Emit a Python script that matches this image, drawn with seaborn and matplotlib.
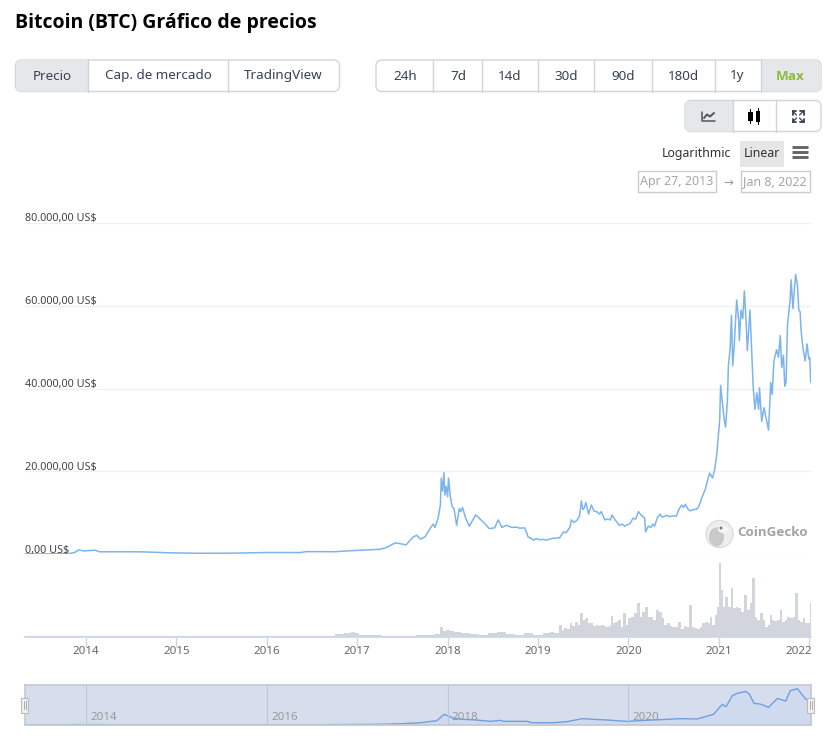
# -*- coding: utf-8 -*-
"""
Bitcoin (BTC) - grafico de precios estilo CoinGecko
"""

import numpy as np
import matplotlib.pyplot as plt
from matplotlib.patches import FancyBboxPatch, Rectangle, Circle, Ellipse
from matplotlib.transforms import ScaledTranslation
import seaborn as sns

# ===============================
# 1. DATOS
# ===============================
price_years = [
    2013.33, 2013.5, 2013.7, 2013.82, 2013.88, 2013.92, 2013.97, 2014.1, 2014.15, 2014.38,
    2014.6, 2014.9, 2015.26, 2015.63, 2016.0, 2016.37, 2016.44, 2016.74, 2017.0, 2017.25,
    2017.32, 2017.42, 2017.47, 2017.54, 2017.62, 2017.66, 2017.70, 2017.75, 2017.80, 2017.84,
    2017.86, 2017.895, 2017.92, 2017.93, 2017.945, 2017.96, 2017.97, 2017.985, 2018.0, 2018.01,
    2018.03, 2018.05, 2018.07, 2018.10, 2018.13, 2018.145, 2018.165, 2018.20, 2018.24, 2018.31,
    2018.35, 2018.41, 2018.46, 2018.52, 2018.56, 2018.60, 2018.65,
    2018.71, 2018.76, 2018.80, 2018.85, 2018.87, 2018.89, 2018.92, 2018.95, 2018.98, 2019.02,
    2019.05, 2019.10, 2019.15, 2019.20, 2019.24, 2019.28, 2019.31, 2019.35, 2019.37, 2019.40,
    2019.43, 2019.46, 2019.48, 2019.495, 2019.51, 2019.53, 2019.56, 2019.59, 2019.62, 2019.65,
    2019.68, 2019.70, 2019.72, 2019.74, 2019.77, 2019.80, 2019.82, 2019.85, 2019.90, 2019.93,
    2019.96, 2020.02, 2020.05, 2020.08, 2020.11, 2020.14, 2020.18, 2020.19, 2020.22, 2020.25,
    2020.27, 2020.29, 2020.32, 2020.35, 2020.37, 2020.39, 2020.42, 2020.46, 2020.50, 2020.53,
    2020.56, 2020.59, 2020.61, 2020.63, 2020.66, 2020.68, 2020.72, 2020.755, 2020.78, 2020.81,
    2020.85, 2020.885,
    2020.90, 2020.93, 2020.955, 2020.977, 2021.01, 2021.02,
    2021.04, 2021.06, 2021.075, 2021.095, 2021.106, 2021.125, 2021.14, 2021.154, 2021.17, 2021.198,
    2021.22, 2021.228, 2021.246, 2021.265, 2021.283, 2021.30, 2021.316, 2021.345, 2021.364, 2021.38,
    2021.40, 2021.42, 2021.44, 2021.45, 2021.475, 2021.50, 2021.55, 2021.575, 2021.59, 2021.61,
    2021.64, 2021.66, 2021.68, 2021.696, 2021.715, 2021.73, 2021.744, 2021.76, 2021.79, 2021.80,
    2021.82, 2021.83, 2021.85, 2021.87, 2021.885, 2021.90, 2021.91, 2021.93, 2021.955, 2021.977,
    2021.995, 2022.006, 2022.017,
]
price_usd = [
    140, 100, 130, 200, 500, 1100, 800, 1000, 600, 620,
    600, 380, 240, 280, 430, 430, 650, 620, 950, 1200,
    1600, 2750, 2600, 2270, 4200, 4600, 3650, 4200, 6000, 7300,
    6500, 8700, 11900, 18400, 15200, 19700, 14300, 16400, 13900, 18400,
    14000, 11500, 11100, 7000, 11100, 10300, 11300, 8700, 6800, 9500,
    8700, 7450, 6200, 6400, 8300, 6500, 7000,
    6500, 6550, 6300, 6400, 5500, 4200, 3900, 3400, 3800, 3500,
    3600, 3450, 3800, 3900, 4000, 5400, 5200, 6400, 8300, 7700,
    8200, 9300, 12900, 10800, 11100, 12500, 9700, 11900, 10400, 10300,
    9700, 10300, 9300, 8300, 8500, 8300, 9500, 8400, 7000, 7300,
    6800, 7450, 8700, 8500, 10300, 9500, 8700, 5400, 6800, 6500,
    7300, 6800, 8800, 9700, 9000, 9100, 9400, 9100, 9300, 9200,
    10900, 11900, 11300, 12100, 10900, 10500, 10800, 10900, 11600, 13500,
    15700, 18600,
    19600, 18400, 20500, 24000, 32500, 40800,
    36600, 32500, 30700, 37000, 45500, 49600, 57700, 45500, 50200, 61400,
    56500, 51600, 59000, 56900, 63600, 56900, 49200, 59000, 48800, 40600,
    35000, 39000, 35000, 40200, 32100, 35400, 30000, 41500, 38600, 46700,
    49400, 47600, 52800, 45100, 48100, 40600, 41500, 55300, 61800, 66300,
    59300, 62200, 67600, 65000, 59000, 58500, 54100, 50000, 46700, 50800,
    47200, 47500, 41500,
]

# volumen en miles de millones (estimado del grafico)
volume_years = [
    2013.33, 2014.0, 2015.0, 2015.8, 2016.1, 2016.4, 2016.7, 2016.8, 2016.9, 2016.96,
    2017.0, 2017.05, 2017.5, 2017.8, 2017.9, 2017.94, 2017.96, 2018.0, 2018.05, 2018.1,
    2018.2, 2018.3, 2018.4, 2018.5, 2018.6, 2018.7, 2018.8, 2018.9,
    2019.00, 2019.10, 2019.155, 2019.21, 2019.247, 2019.277, 2019.306, 2019.336, 2019.365, 2019.395,
    2019.424, 2019.454, 2019.483, 2019.506, 2019.535, 2019.565, 2019.594, 2019.624, 2019.653, 2019.683,
    2019.712, 2019.742, 2019.771, 2019.793, 2019.815, 2019.838, 2019.875, 2019.904, 2019.926, 2019.963,
    2019.985, 2020.015, 2020.044, 2020.074, 2020.111, 2020.14, 2020.17, 2020.20, 2020.229, 2020.258,
    2020.288, 2020.325, 2020.354, 2020.384, 2020.413, 2020.443, 2020.472, 2020.502, 2020.531, 2020.568,
    2020.598, 2020.627, 2020.657, 2020.686, 2020.716, 2020.745, 2020.775, 2020.804, 2020.834, 2020.863,
    2020.893, 2020.915, 2020.945, 2020.974, 2020.996, 2021.011, 2021.033, 2021.055, 2021.085, 2021.114,
    2021.148, 2021.173, 2021.203, 2021.232, 2021.262, 2021.299, 2021.328, 2021.358, 2021.38, 2021.41,
    2021.439, 2021.469, 2021.498, 2021.528, 2021.55, 2021.572, 2021.601, 2021.631, 2021.66, 2021.686,
    2021.712, 2021.742, 2021.771, 2021.801, 2021.83, 2021.86, 2021.882, 2021.911, 2021.941, 2021.97,
    2021.996, 2022.018,
]
volume_bn = [
    1, 1, 2, 3, 5, 5, 5, 14, 18, 24,
    16, 6, 5, 9, 14, 47, 25, 30, 25, 20,
    16, 13, 9, 19, 20, 13, 8, 16,
    8, 16, 24, 19, 55, 32, 40, 38, 66, 50,
    71, 55, 111, 79, 87, 63, 66, 50, 55, 50,
    55, 50, 45, 50, 98, 63, 71, 79, 45, 111,
    55, 87, 95, 111, 158, 95, 119, 142, 95, 95,
    79, 126, 119, 87, 55, 63, 50, 47, 44, 71,
    36, 51, 47, 150, 47, 42, 38, 47, 63, 71,
    63, 95, 55, 103, 142, 351, 221, 142, 190, 142,
    229, 134, 142, 134, 119, 198, 126, 158, 277, 95,
    79, 111, 79, 47, 55, 103, 79, 76, 79, 126,
    71, 79, 92, 87, 95, 205, 79, 71, 87, 63,
    63, 158,
]

# serie suavizada del navegador inferior
nav_years = [
    2013.33, 2013.9, 2014.5, 2015.3, 2016.4, 2017.0, 2017.3, 2017.5, 2017.70, 2017.88,
    2017.96, 2018.01, 2018.07, 2018.18, 2018.32, 2018.47, 2018.58, 2018.62, 2018.88, 2018.93,
    2019.17, 2019.32, 2019.49, 2019.62, 2019.76, 2019.98, 2020.2, 2020.35, 2020.575, 2020.76,
    2020.94, 2021.04, 2021.08, 2021.15, 2021.2, 2021.3, 2021.34, 2021.39, 2021.46, 2021.55,
    2021.65, 2021.74, 2021.79, 2021.87, 2021.96, 2022.0, 2022.017,
]
nav_usd = [
    100, 800, 600, 250, 500, 1000, 1400, 2500, 4300, 8000,
    19800, 16700, 12400, 10500, 9300, 6800, 8700, 6800, 6800, 4300,
    4300, 6200, 11800, 10500, 9300, 6800, 8700, 9900, 11800, 11200,
    19800, 38400, 34100, 54600, 58900, 62600, 57000, 40300, 39000, 32900,
    49600, 44600, 63900, 67600, 48400, 46500, 44000,
]

price_ticks = [0, 20000, 40000, 60000, 80000]
price_labels = ["0,00 US$", "20.000,00 US$", "40.000,00 US$", "60.000,00 US$", "80.000,00 US$"]
year_ticks = [2014, 2015, 2016, 2017, 2018, 2019, 2020, 2021, 2022]
nav_ticks = [2014, 2016, 2018, 2020]

# ===============================
# 2. FIGURA Y EJES
# ===============================
sns.set_theme(style="white")
plt.rcParams['font.family'] = ['Noto Sans', 'DejaVu Sans']

W, H = 838, 743
LINE_COLOR = "#7cb5ec"
VOL_COLOR = "#d2d5dc"
TEXT = "#374151"
BORDER = "#d1d5db"
ACTIVE = "#e5e7eb"
XLIM = (2013.325, 2022.02)
BOLD_FONT = ['Open Sans', 'DejaVu Sans']


def px_axes(x0, y0, x1, y1):
    return fig.add_axes([x0 / W, 1 - y1 / H, (x1 - x0) / W, (y1 - y0) / H])


fig = plt.figure(figsize=(W / 100, H / 100), dpi=100, facecolor="white")

# Precio
ax = px_axes(25, 223, 811, 554.3)
ax.patch.set_alpha(0)
sns.despine(ax=ax, left=True, bottom=True)
for t, lab in zip(price_ticks, price_labels):
    ax.axhline(t, color="#f0f0f0", lw=1, zorder=0)
    ax.annotate(lab, (0, t), xycoords=ax.get_yaxis_transform(), xytext=(0, -1),
                textcoords="offset points", fontsize=7.8, color="#444444", va="bottom", ha="left")
sns.lineplot(x=price_years, y=price_usd, color=LINE_COLOR, lw=1.1, ax=ax, errorbar=None,
             estimator=None, sort=False)
ax.set(xlim=XLIM, ylim=(0, 80000), xlabel="", ylabel="", xticks=[], yticks=[])

# Volumen
ax_vol = px_axes(25, 555, 811, 636.7)
ax_vol.patch.set_alpha(0)
vol_mid = (np.array(volume_years[:-1]) + np.array(volume_years[1:])) / 2
vol_edges = [volume_years[0]] + vol_mid.tolist() + [volume_years[-1] + 0.004]
sns.histplot(x=volume_years, weights=volume_bn, bins=vol_edges, color=VOL_COLOR, alpha=1,
             linewidth=0, ax=ax_vol)
ax_vol.set(xlim=XLIM, ylim=(0, 387), xlabel="", ylabel="", yticks=[])
sns.despine(ax=ax_vol, left=True)
ax_vol.spines['bottom'].set_color("#ccd6eb")
ax_vol.set_xticks(year_ticks)
ax_vol.set_xticklabels([str(y) for y in year_ticks], fontsize=8.3, color="#666666")
ax_vol.tick_params(axis="x", length=7, width=1, color="#ccd6eb", pad=-0.5, bottom=True)
last = ax_vol.get_xticklabels()[-1]
last.set_ha("right")
last.set_transform(last.get_transform() + ScaledTranslation(2.5 / 100, 0, fig.dpi_scale_trans))

# Navegador
ax_nav = px_axes(25, 685, 811, 725)
ax_nav.set_facecolor("#d6deee")
ax_nav.fill_between(nav_years, nav_usd, color="#cfdaee", lw=0)
sns.lineplot(x=nav_years, y=nav_usd, color="#6f9fe0", lw=1, ax=ax_nav, errorbar=None,
             estimator=None, sort=False)
for y in nav_ticks:
    ax_nav.axvline(y, color="#c0c7d6", lw=0.8)
    ax_nav.annotate(str(y), (y, 0), xycoords=ax_nav.get_xaxis_transform(), xytext=(3, 1.5),
                    textcoords="offset points", fontsize=8.3, color="#999999", va="bottom")
ax_nav.set(xlim=XLIM, ylim=(0, 74500), xlabel="", ylabel="", xticks=[], yticks=[])
for s in ax_nav.spines.values():
    s.set_color("#c4c8d2")
    s.set_linewidth(1.2)

# ===============================
# 3. CAPA DE INTERFAZ (pixeles)
# ===============================
ui = fig.add_axes([0, 0, 1, 1], zorder=5)
ui.set_xlim(0, W)
ui.set_ylim(H, 0)
ui.axis("off")
ui.patch.set_alpha(0)


def button_group(x0, x1, y0, y1, splits, active=None):
    # fondo redondeado recortado para el boton activo
    box = FancyBboxPatch((x0, y0), x1 - x0, y1 - y0, boxstyle="round,pad=0,rounding_size=6",
                         fc="white", ec=BORDER, lw=1, zorder=1)
    ui.add_patch(box)
    if active is not None:
        r = Rectangle((active[0], y0), active[1] - active[0], y1 - y0, fc=ACTIVE, ec="none", zorder=2)
        ui.add_patch(r)
        r.set_clip_path(box)
    for s in splits:
        ui.plot([s, s], [y0, y1], color=BORDER, lw=1, zorder=3)


def label(x, y, txt, size=9.7, color=TEXT, weight="medium", ha="center", family=None):
    ui.text(x, y, txt, fontsize=size, color=color, fontweight=weight, ha=ha, va="center",
            zorder=6, family=family)


ui.text(15, 23, "Bitcoin (BTC) Gráfico de precios", fontsize=14, fontweight="bold",
        color="black", va="center", ha="left", family=BOLD_FONT)

button_group(15.5, 339.5, 60, 91.5, [87.5, 227.5], active=(15.5, 87.5))
label(52, 76, "Precio")
label(158, 76, "Cap. de mercado")
label(283, 76, "TradingView")

button_group(376, 821, 60, 91.5, [433, 482, 538, 594, 651.5, 714.5, 760.5], active=(760.5, 821))
for xc, t in zip([405, 458, 510, 566, 623, 683, 737], ["24h", "7d", "14d", "30d", "90d", "180d", "1y"]):
    label(xc, 76, t)
label(790.5, 76, "Max", color="#8dbb3c", weight="bold", family=BOLD_FONT)

button_group(685, 821, 100.5, 131.5, [732.5, 775.5], active=(685, 732.5))

# icono de linea
ui.plot([702, 702, 715], [111.5, 120.5, 120.5], color="#4b5563", lw=1.1, zorder=6)
ui.plot([704, 707, 710, 714], [118, 114.5, 116.5, 113], color="#4b5563", lw=1.4, zorder=6)
# icono de velas
ui.plot([750, 750], [109, 123], color="black", lw=0.8, zorder=6)
ui.plot([758, 758], [107.5, 124], color="black", lw=0.8, zorder=6)
ui.add_patch(Rectangle((747.5, 112), 5, 8.5, fc="black", ec="none", zorder=6))
ui.add_patch(Rectangle((756, 110.5), 4, 11, fc="black", ec="none", zorder=6))
# icono de expandir
for sx, sy in [(-1, -1), (1, -1), (-1, 1), (1, 1)]:
    cx, cy = 798 + sx * 5.5, 116.5 + sy * 5.5
    ui.plot([cx, cx - sx * 4], [cy, cy - sy * 4], color="#374151", lw=0.9, zorder=6)
    ui.plot([cx, cx - sx * 3.5], [cy, cy], color="#374151", lw=1.3, zorder=6)
    ui.plot([cx, cx], [cy, cy - sy * 3.5], color="#374151", lw=1.3, zorder=6)

# escala
label(731, 153.5, "Logarithmic", size=8.9, color="#333333", weight="normal", ha="right")
ui.add_patch(Rectangle((740, 141), 44, 26, fc="#e6e6e6", ec="none", zorder=1))
label(761.5, 153.5, "Linear", size=8.9, color="#333333", weight="normal")
for yb in [146.5, 151.5, 156.5]:
    ui.plot([791.5, 808], [yb, yb], color="#666666", lw=2.1, solid_capstyle="butt", zorder=6)

# fechas
ui.add_patch(Rectangle((637.5, 170.5), 78, 21, fc="white", ec="#cccccc", lw=1, zorder=1))
ui.add_patch(Rectangle((740.5, 170.5), 69, 21, fc="white", ec="#cccccc", lw=1, zorder=1))
label(676.5, 181.5, "Apr 27, 2013", size=9, color="#a6a6a6", weight="normal")
label(775, 181.5, "Jan 8, 2022", size=9, color="#a6a6a6", weight="normal")
label(728, 182, "→", size=8.5, color="#999999", weight="normal")

# marca de agua
ui.add_patch(Circle((719.5, 534), 13.5, fc="#eeeeee", ec="#dddddd", lw=1, zorder=1))
ui.add_patch(Ellipse((716.5, 537), 15, 19, fc="#c9c9c9", ec="none", zorder=2))
ui.add_patch(Ellipse((723, 529), 10, 8, fc="#f5f5f5", ec="none", zorder=3))
ui.add_patch(Circle((721, 528), 1.5, fc="#777777", ec="none", zorder=4))
label(772, 533, "CoinGecko", size=9.6, color="#a3a3a3", weight="bold", family=BOLD_FONT)

# asas del navegador
for xh in [24.5, 810.5]:
    ui.add_patch(Rectangle((xh - 3.5, 697.5), 7, 15, fc="#f2f2f2", ec="#bbbbbb", lw=0.8, zorder=6))
    ui.plot([xh - 1, xh - 1], [701, 709], color="#aaaaaa", lw=0.7, zorder=7)
    ui.plot([xh + 1, xh + 1], [701, 709], color="#aaaaaa", lw=0.7, zorder=7)

plt.savefig("out.png", dpi=100)
plt.close()
